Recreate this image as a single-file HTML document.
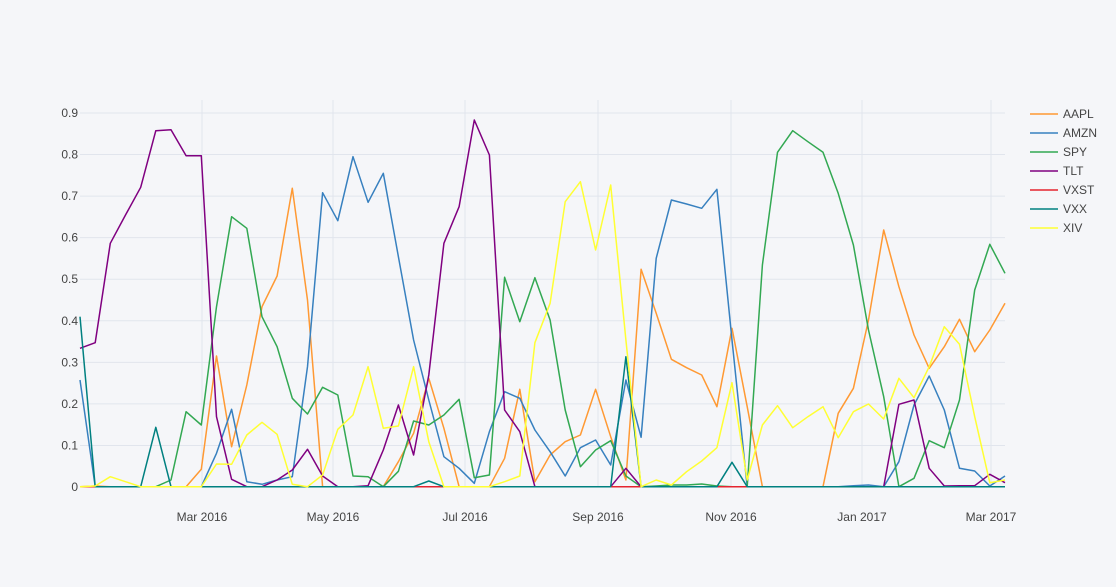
<!DOCTYPE html>
<html><head><meta charset="utf-8"><style>
html,body{margin:0;padding:0;background:#f5f6f9;}
svg{display:block;font-family:"Liberation Sans",sans-serif;}
</style></head><body>
<svg id="s" width="1116" height="587" viewBox="0 0 1116 587" xmlns="http://www.w3.org/2000/svg">
<rect width="1116" height="587" fill="#f5f6f9"/>
<g id="grid"></g>
<g id="lines" fill="none" stroke-width="1.5" stroke-linejoin="round"></g>
<g id="labels" font-size="12" fill="#444"></g>
<g id="legend" font-size="12" fill="#444"></g>
</svg>
<script>
var NS="http://www.w3.org/2000/svg";
function el(t,a,p,txt){var e=document.createElementNS(NS,t);for(var k in a)e.setAttribute(k,a[k]);if(txt!=null)e.textContent=txt;document.getElementById(p).appendChild(e);return e;}
var x0=80,x1=1005;
function Y(v){return 487-v*415.6;}
for(var i=0;i<=9;i++){var y=Y(i/10);
 if(i>0)el('line',{x1:x0,x2:x1,y1:y,y2:y,stroke:'#e1e5ed','stroke-width':1},'grid');
 el('text',{x:78,y:y+4,'text-anchor':'end'},'labels',i==0?'0':'0.'+i);}
var dt=[[202,'Mar 2016'],[333,'May 2016'],[465,'Jul 2016'],[598,'Sep 2016'],[731,'Nov 2016'],[862,'Jan 2017'],[991,'Mar 2017']];
dt.forEach(function(d){el('line',{x1:d[0],x2:d[0],y1:100,y2:487,stroke:'#e1e5ed','stroke-width':1},'grid');
 el('text',{x:d[0],y:521,'text-anchor':'middle'},'labels',d[1]);});
el('line',{x1:x0,x2:x1,y1:487,y2:487,stroke:'#e1e5ed','stroke-width':1},'grid');
function Z(n){var a=[];for(var i=0;i<n;i++)a.push(1160);return a;}
var S={
AAPL:[1160,1158,1160,1160,1160,1160,1160,1160,1108,768,1040,855,620,528,265,600,1160,1160,1160,1160,1160,1085,1000,835,985,1160,1160,1160,1075,868,1145,1065,1025,1005,868,1010,1140,508,640,778,803,825,920,685,920,1160,1160,1160,1160,1160,940,865,660,390,560,705,805,740,658,755,690,610],
AMZN:[840,1160,1160,1160,1160,1160,1160,1160,1160,1060,928,1145,1153,1140,1130,800,278,362,170,307,220,470,720,900,1070,1105,1150,995,875,895,990,1055,1128,1043,1020,1095,840,1012,475,300,312,325,268,720,1160,1160,1160,1160,1160,1160,1160,1157,1155,1160,1085,915,828,930,1105,1113,1158,1128],
SPY:[1160,1160,1160,1160,1160,1160,1140,935,975,620,350,385,650,740,895,942,862,885,1128,1130,1160,1114,963,975,945,898,1133,1125,532,665,533,660,930,1100,1050,1022,1128,1160,1158,1155,1155,1152,1158,1160,1160,495,157,92,125,157,280,435,690,890,1160,1135,1022,1043,900,570,433,520],
TLT:[745,728,430,345,262,92,89,167,167,950,1138,1160,1160,1140,1110,1048,1128,1160,1160,1157,1050,915,1065,825,430,320,60,165,930,995,1160,1160,1160,1160,1160,1160,1105,1160,1160,1160,1160,1160,1160,1160,1160,1160,1160,1160,1160,1160,1160,1160,1160,1160,913,900,1105,1158,1157,1157,1123,1148],
VXST:Z(62),
VXX:(function(){var a=Z(62);a[0]=650;a[5]=982;a[23]=1143;a[36]=770;a[43]=1087;return a;})(),
XIV:[1160,1158,1130,1145,1160,1160,1160,1160,1160,1092,1093,1005,967,1003,1153,1160,1125,988,945,800,985,978,800,1025,1160,1160,1160,1160,1145,1128,728,610,305,245,450,255,720,1160,1140,1155,1115,1083,1043,848,1140,975,917,983,950,920,1013,935,912,957,835,893,800,680,733,950,1148,1140]
};
var C={AAPL:'#ff9933',AMZN:'#3780bf',SPY:'#32a852',TLT:'#800080',VXST:'#e5242f',VXX:'#008080',XIV:'#ffff33'};
var order=['AAPL','AMZN','SPY','TLT','VXST','VXX','XIV'];
var dx=(x1-x0)/61;
order.forEach(function(k){var p=S[k].map(function(v,i){return (x0+i*dx).toFixed(1)+','+(100+v/3).toFixed(1);}).join(' ');
 el('polyline',{points:p,stroke:C[k]},'lines');});
order.forEach(function(k,i){var y=114+i*19;
 el('line',{x1:1030,x2:1058,y1:y,y2:y,stroke:C[k],'stroke-width':1.5},'legend');
 el('text',{x:1063,y:y+4},'legend',k);});
</script>
</body></html>
